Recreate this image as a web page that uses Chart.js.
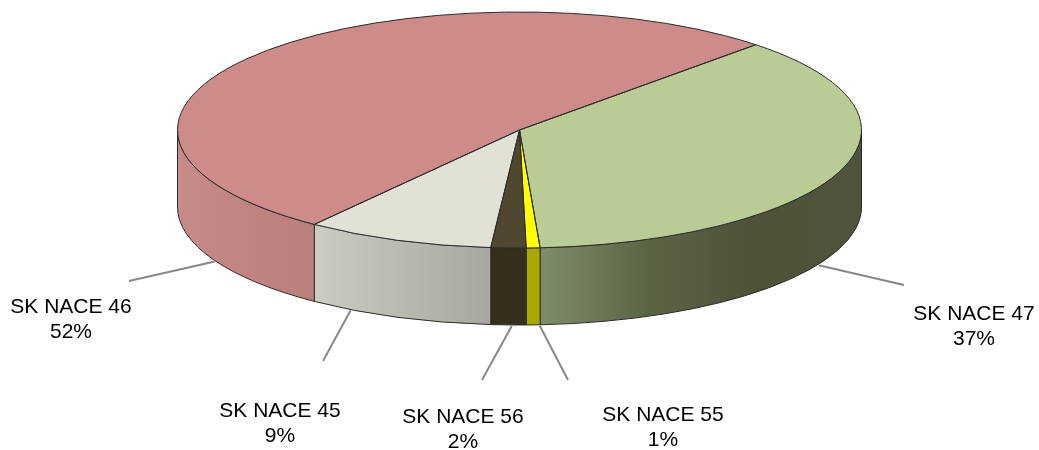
<!DOCTYPE html>
<html>
<head>
<meta charset="utf-8">
<script src="https://cdn.jsdelivr.net/npm/chart.js@4"></script>
<style>
    html, body { margin: 0; padding: 0; background: #fff; }
    canvas { display: block; }
</style>
</head>
<body>
<canvas id="pieChart" width="1039" height="450"></canvas>
<script>
// slices clockwise, starting at the red/green edge
const categories = ['SK NACE 47', 'SK NACE 55', 'SK NACE 56', 'SK NACE 45', 'SK NACE 46'];
// printed on the labels
const percents = [37, 1, 2, 9, 52];
const sliceValues = [36.9, 0.65, 1.65, 8.9, 51.9];

const topColors = ['#bacb96', '#ffff00', '#4f4730', '#e2e1d6', '#cd8b8a'];
const wallColors = [
    ['#7f8d69', '#5c6446', '#4d5238', '#50543c'],
    ['#a8a800', '#a8a800'],
    ['#35301c', '#35301c'],
    ['#cdccc2', '#a8a79f'],
    ['#c58c8a', '#c08482', '#ba807e']
];

// where the pie sits once it has been tilted
const tilt = { centerY: 130, ratio: 118 / 342, depth: 77 };
const pieRadius = 342;
const startDegrees = 43.7;

// leader start as a rim angle (clockwise from top), leader end and text centre in px
const labelSpots = [
    { rim: 119, lineEnd: [904, 285], text: [974, 314] },
    { rim: 176.6, lineEnd: [568, 380], text: [663, 415] },
    { rim: 181.3, lineEnd: [482, 380], text: [463, 417] },
    { rim: 209.6, lineEnd: [323, 361], text: [280, 411] },
    { rim: 243, lineEnd: [129, 281], text: [71, 307] }
];

// the part of an arc on the front of the pie, canvas angle 0..PI
function frontPart(start, end) {
    const turn = Math.PI * 2;
    let a = start % turn;
    if (a < 0) a += turn;
    const b = a + (end - start);
    if (a < Math.PI) return [a, Math.min(b, Math.PI)];
    if (b > turn) return [turn, Math.min(b, turn + Math.PI)];
    return null;
}

const pie3d = {
    id: 'pie3d',
    beforeDatasetsDraw(chart) {
        const ctx = chart.ctx;
        const arcs = chart.getDatasetMeta(0).data;
        const cx = arcs[0].x;
        const rx = arcs[0].outerRadius;
        const ry = rx * tilt.ratio;
        const cy = tilt.centerY;

        ctx.save();
        arcs.forEach((arc, i) => {
            const part = frontPart(arc.startAngle, arc.endAngle);
            if (!part) return;
            const x0 = cx + rx * Math.cos(part[0]);
            const x1 = cx + rx * Math.cos(part[1]);
            const grad = ctx.createLinearGradient(Math.min(x0, x1), 0, Math.max(x0, x1), 0);
            wallColors[i].forEach((c, k) => grad.addColorStop(k / (wallColors[i].length - 1), c));

            ctx.beginPath();
            ctx.ellipse(cx, cy + tilt.depth, rx, ry, 0, part[0], part[1]);
            ctx.ellipse(cx, cy, rx, ry, 0, part[1], part[0], true);
            ctx.closePath();
            ctx.fillStyle = grad;
            ctx.fill();
            ctx.strokeStyle = '#2b2b2b';
            ctx.lineWidth = 1;
            ctx.stroke();
        });
        ctx.restore();

        // squash the library's round pie into the top face
        ctx.save();
        ctx.translate(cx, cy);
        ctx.scale(1, tilt.ratio);
        ctx.translate(-cx, -arcs[0].y);
    },
    afterDatasetsDraw(chart) {
        const ctx = chart.ctx;
        ctx.restore();

        const arcs = chart.getDatasetMeta(0).data;
        const cx = arcs[0].x;
        const rx = arcs[0].outerRadius;
        const ry = rx * tilt.ratio;
        const cy = tilt.centerY;

        ctx.save();
        ctx.strokeStyle = '#2b2b2b';
        ctx.lineWidth = 1;
        arcs.forEach((arc) => {
            ctx.beginPath();
            ctx.moveTo(cx, cy);
            ctx.ellipse(cx, cy, rx, ry, 0, arc.startAngle, arc.endAngle);
            ctx.closePath();
            ctx.stroke();
        });

        ctx.font = '21px "Liberation Sans", Arial, sans-serif';
        ctx.textAlign = 'center';
        ctx.textBaseline = 'middle';
        labelSpots.forEach((spot, i) => {
            const a = spot.rim * Math.PI / 180;
            ctx.beginPath();
            ctx.moveTo(cx + rx * Math.sin(a), cy + tilt.depth - ry * Math.cos(a) + 1);
            ctx.lineTo(spot.lineEnd[0], spot.lineEnd[1]);
            ctx.strokeStyle = '#888888';
            ctx.lineWidth = 2;
            ctx.stroke();

            ctx.fillStyle = '#000';
            ctx.fillText(categories[i], spot.text[0], spot.text[1]);
            ctx.fillText(percents[i] + '%', spot.text[0], spot.text[1] + 25);
        });
        ctx.restore();
    }
};

new Chart(document.getElementById('pieChart').getContext('2d'), {
    type: 'pie',
    data: {
        labels: categories,
        datasets: [{
            data: sliceValues,
            backgroundColor: topColors,
            borderWidth: 0,
            clip: 1000
        }]
    },
    options: {
        responsive: false,
        animation: false,
        events: [],
        rotation: startDegrees,
        radius: pieRadius,
        layout: { padding: 0 },
        plugins: {
            legend: { display: false },
            tooltip: { enabled: false }
        }
    },
    plugins: [pie3d]
});
</script>
</body>
</html>
